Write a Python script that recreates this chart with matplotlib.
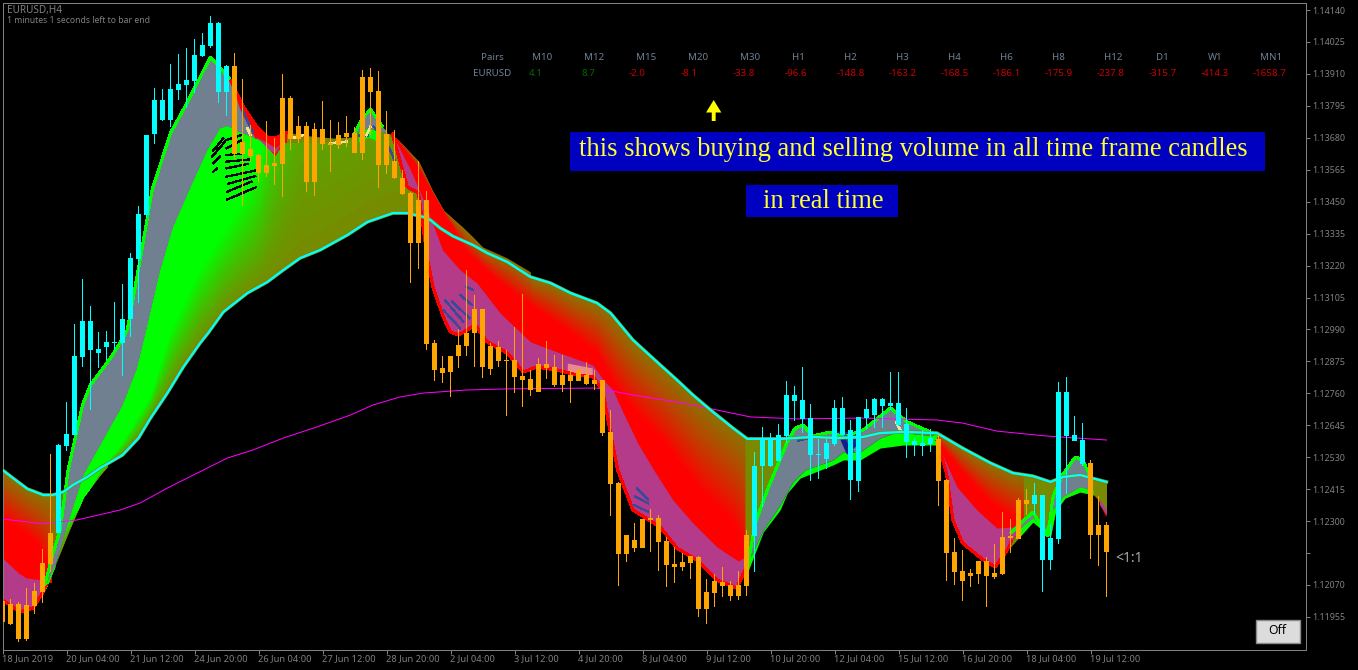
import numpy as np
import matplotlib
matplotlib.use("Agg")
import matplotlib.pyplot as plt
from matplotlib.colors import to_rgb
from matplotlib.patches import Rectangle
from matplotlib.transforms import Affine2D

# ---------- values: prices are written as points, 12012 meaning 1.12012 ----------
OPEN = [12012,12002,12002,11998,12048,12149,12257,12257,12570,12610,12891,12916,12905,12927,12941,12941,13028,13244,13402,13694,13744,13744,13852,13870,13884,13974,14010,13845,13845,
        13938,13665,13640,13618,13582,13589,13823,13823,13722,13722,13712,13712,13661,13690,13697,13697,13899,13899,13848,13694,13596,13535,13481,13456,13456,12941,12851,12894,12934,12977,13064,13064,12930,12927,12880,12880,12822,12812,12866,12866,12855,12826,12826,12844,12826,12808,12808,12621,12437,12250,12232,12308,12311,12311,12228,12146,12153,12174,12171,12045,12084,12081,12070,12070,12250,
        12246,12498,12498,12516,12606,12732,12668,12538,12538,12524,12578,12610,12448,12444,12671,12682,12714,12714,12646,12585,12574,12570,12578,
        12596,12448,12189,12120,12113,12156,12156,12113,12243,12246,12376,12376,12362,12160,12160,12236,12606,12588,12506,12509,12286,12286]
CLOSE = [11937,11930,11876,11876,11994,12045,12146,12574,12614,12894,13020,13020,12920,12945,12945,13028,13247,13406,13690,13816,13816,13856,13874,13888,13978,14014,14093,14093,13938,
         13622,13622,13614,13553,13553,13578,13586,13676,13676,13521,13521,13658,13654,13654,13683,13625,13625,13845,13582,13582,13535,13478,13301,13301,12938,12844,12833,12837,12894,12930,12977,12855,12848,12876,12876,12819,12808,12772,12765,12851,12790,12790,12804,12804,12794,12794,12617,12434,12182,12182,12203,12203,12304,12225,12142,12135,12135,12149,11984,11984,12041,12066,12030,12030,12066,
         12498,12592,12596,12610,12754,12754,12736,12671,12542,12581,12707,12707,12628,12675,12704,12740,12740,12725,12725,12650,12588,12581,12599,
         12444,12185,12117,12084,12102,12110,12102,12099,12110,12239,12236,12362,12394,12394,12239,12765,12765,12610,12592,12250,12250,12189]
HIGH = [12012,12020,12009,12059,12077,12200,12542,12578,12729,13010,13172,13074,12981,12984,13089,13154,13265,13434,13690,13859,13856,13946,13982,14003,14036,14057,14118,14097,13942,13985,13892,13726,13622,13740,13679,13910,13830,13758,13737,13733,13812,13744,13737,13758,13719,13924,13931,13920,13776,13708,13564,13485,13596,13488,12952,12894,12894,12992,13204,13114,13064,12941,12948,12916,12999,13118,12844,12887,12948,12898,12898,12844,12848,12873,12844,12808,12700,12441,12250,12293,12308,12344,12322,12243,12207,12185,12174,12174,12092,12110,12135,12084,12120,12268,12549,12639,12617,12650,12804,12786,12855,12722,12596,12596,12736,12747,12664,12675,12740,12743,12743,12837,12837,12707,12599,12628,12632,12614,12452,12239,12196,12128,12156,12171,12218,12333,12308,12383,12416,12437,12394,12290,12801,12819,12678,12653,12520,12390,12297]
LOW = [11937,11926,11865,11868,11966,12005,12117,12257,12552,12610,12855,12700,12851,12880,12916,12822,12963,13085,13391,13658,13740,13719,13816,13787,13841,13971,14003,13805,13758,13604,13434,13593,13521,13539,13510,13467,13636,13661,13485,13470,13636,13557,13640,13647,13625,13600,13690,13499,13550,13532,13474,13157,13208,12916,12804,12797,12747,12851,12894,12855,12815,12826,12855,12678,12761,12711,12750,12765,12812,12783,12765,12725,12804,12790,12772,12606,12318,12066,12153,12189,12203,12189,12120,12063,12077,12120,12092,11955,11930,11991,12027,12012,12016,12030,12117,12351,12495,12516,12581,12660,12617,12444,12452,12488,12570,12610,12376,12405,12632,12635,12635,12700,12642,12527,12534,12534,12549,12354,12084,12070,12012,12063,12074,11991,12092,12106,12185,12236,12322,12322,12045,12124,12218,12398,12588,12498,12164,12138,12027]

slow_bar = [0,1.3,3.1,5.1,6.3,7.6,8.8,10.6,12.2,15,17,18.5,20.6,22.6,24.7,25.7,27.6,30.6,33.1,35.1,37.2,39.7,43.1,45.6,48.8,50.6,52.6,53.5,54.7,56.3,58.8,60.6,63.1,66,68.5,71,74.3,76,78.8,81.8,84.3,86.3,88.5,91.3,93.1,97.2,101.3,104.3,107.6,109.7,112.6,116.8,120,123.5,126.3,128.8,131,132.6,134.7,138]
slow_pts = [12484,12455,12416,12394,12394,12405,12430,12459,12491,12538,12599,12671,12761,12855,12941,12977,13053,13121,13161,13204,13247,13276,13330,13377,13409,13409,13395,13384,13355,13326,13294,13265,13233,13179,13157,13121,13085,13049,12952,12873,12808,12754,12700,12635,12596,12596,12603,12599,12603,12617,12621,12617,12563,12509,12473,12462,12441,12459,12466,12441]
ma_bar = [0,5.1,9.3,14.7,17.2,20.6,25.6,28.1,31.3,35.1,39.3,43.5,46.3,49.7,52.6,58,63.1,74.3,78.8,85.1,89.3,93.5,96.8,99.3,107.6,116.8,120,124.3,130.6,138]
ma_pts = [12308,12290,12304,12340,12365,12419,12491,12527,12556,12599,12639,12682,12718,12747,12761,12772,12776,12779,12754,12725,12700,12675,12671,12668,12671,12664,12653,12624,12606,12592]

# first fall
d1_red_bar = [0,1.3,3.1,4.7,5.6,6.2];        d1_red_pts = [12304,12286,12250,12203,12142,12088]
d1_orc_bar = [0,2,3,5,6];                    d1_orc_pts = [12167,12113,12095,12088,12081]
d1_fast_bar = [0,2.2,3.8,5.1,5.6];           d1_fast_pts = [12016,11973,11987,12045,12081]
# first rise
up_fast_bar = [5.3,6,7.2,8.2,9.1,10,11,13.5,14.3,15.6,17.2,18.7,21,22.8,26,28.5]
up_fast_pts = [12070,12153,12268,12484,12599,12718,12790,12887,12923,12988,13240,13492,13697,13791,13971,13888]
gray_top_bar = up_fast_bar + [29.7,31,31.7]
gray_top_pts = up_fast_pts + [13780,13708,13672]
gray_low_bar = [5.3,6.6,8.1,10.1,12.2,15,16.8,17.8,19.7,21.3,23.5,25.6,27.2,28.1,29.5,31.7]
gray_low_pts = [12052,12142,12286,12466,12574,12718,12851,12970,13204,13359,13503,13636,13715,13722,13701,13672]
up_low_bar = [5,6.6,8.1,10.1,12.2,13.1]
up_low_pts = [12045,12142,12250,12387,12466,12495]
up_piv_bar = [7.2,9.7,12.2,14.7,18.5,21,24.7,28.5,31,32.2,34.1,36,37.2,43.5,49.7,53.5]
up_piv_pts = [12250,12358,12484,12574,12754,12988,13215,13384,13510,13611,14010,14536,15018,15256,15436,15436]
green_top_bar = [5.3,6.6,8.1,10.1,12.2,15,16.8,17.8,19.7,21.3,23.5,25.6,27.2,28.1,29.5,32,34.1,35.1,37.8,40.3,43.2,44.5,45.7,47.5,48.7,50,50.6,52,53.2]
green_top_pts = [12052,12142,12286,12466,12574,12718,12851,12970,13204,13359,13503,13636,13715,13722,13701,13672,13614,13661,13665,13661,13665,13701,13715,13701,13690,13564,13503,13481,13395]
# upper edge through the plateau and the second fall
edge_bar = [28.5,30.1,31.8,33.1,34.1,35.6,37.2,41.3,43.8,44.7,46,47.6,49.7,52,53.7,55.1,57.5,58.8,60,63.1,66]
edge_pts = [13888,13794,13719,13683,13679,13701,13690,13679,13683,13737,13784,13715,13665,13596,13492,13420,13359,13323,13287,13247,13197]
wedge_hi_bar = [31.7,33.2,34.1,34.7];        wedge_hi_pts = [13683,13661,13643,13658]
wedge_lo_bar = [31.7,33.2,34.1,34.7];        wedge_lo_pts = [13676,13636,13625,13654]
bump_low_bar = [44.5,45.7,47.2];             bump_low_pts = [13665,13683,13665]
# second fall
d2_red_bar = [49.1,52.1,53.5,58.1,62.2,66.3,70.6,74.3,76.3,78.8,83.1,87.2,91.3,92.8]
d2_red_pts = [13683,13564,13492,13265,13157,13071,12988,12905,12797,12700,12567,12412,12293,12207]
d2_orc_bar = [49.1,51,53,55,57.2,59.3,62.2,66,69.7,73.8,75.1,76.3,77.6,79.4,81.4,83.8,86.3,89.3,92,93.1]
d2_orc_pts = [13672,13564,13431,13276,13204,13157,13049,12945,12905,12862,12808,12772,12689,12581,12484,12376,12293,12207,12156,12178]
d2_fast_bar = [48.7,50,50.6,52,53.2,53.8,55.1,56,57,59.1,60.6,63.1,65.1,66.8,69.3,71.8,73.8,75,76,76.9,78.8,82.2,84.3,86.8,89.3,91.8,93.2]
d2_fast_pts = [13697,13564,13503,13481,13229,13143,13035,12981,12970,13006,12945,12905,12837,12855,12844,12826,12819,12772,12617,12484,12340,12279,12203,12160,12088,12059,12149]
pink_hi_bar = [70.6,73.8];                   pink_hi_pts = [12869,12851]
pink_lo_bar = [70.6,73.8];                   pink_lo_pts = [12834,12826]
# second rise
u2_fast_bar = [93.2,94.1,95.6,97,98.1,99.1,100.1,101.2,103.5,105.1,107.6,111,113.1,116,117.6]
u2_fast_pts = [12149,12293,12412,12509,12585,12635,12646,12606,12621,12603,12628,12707,12657,12621,12599]
u2_gray_bar = [93.5,95.1,97.2,98.8,100.3,103.8,105.1,107.2,109.7,111.8,115.4]
u2_gray_pts = [12171,12268,12358,12441,12484,12520,12549,12549,12599,12621,12610]
u2_low_bar = [93.1,95.1,97.2,98.1,99.7,103.8,105.1,107.2,109.7,112.6,115.6,117.6]
u2_low_pts = [12113,12261,12340,12401,12455,12502,12520,12520,12563,12574,12574,12574]
navy_hi_bar = [104.3,106.8];                 navy_hi_pts = [12625,12620]
navy_lo_bar = [104.3,105.5,106.8];           navy_lo_pts = [12620,12540,12575]
# third fall
d3_red_bar = [116.8,120,123.5,126.3,127.6];  d3_red_pts = [12592,12473,12365,12315,12293]
d3_orc_bar = [117.4,119.3,121.8,124.3,126.3,127.6]; d3_orc_pts = [12545,12423,12340,12275,12279,12293]
d3_fast_bar = [116.8,118,118.8,120,122.6,124.1,125.6,126.2,127.6]
d3_fast_pts = [12592,12473,12304,12221,12160,12135,12196,12232,12293]
# third rise and the last bars
u3_fast_bar = [126,128.8,130.7,131.3,132.5,134.1,135,136]
u3_fast_pts = [12257,12333,12243,12387,12466,12531,12520,12459]
u3_gray_bar = [127.2,128.8,130.3,131.3,132.5,134.7,136]
u3_gray_pts = [12275,12311,12268,12340,12387,12423,12412]
u3_low_bar = [126,128.8,131,131.6,132.8,134.7,136.4,137]
u3_low_pts = [12207,12297,12243,12333,12383,12405,12394,12376]
end_low_bar = u3_low_bar + [138];            end_low_pts = u3_low_pts + [12322]
tip_hi_bar = [136.8,138];                    tip_hi_pts = [12387,12329]
tip_lo_bar = [136.8,137.2,138];              tip_lo_pts = [12387,12360,12311]
tip_in_hi_bar = [137.1,138];                 tip_in_hi_pts = [12380,12340]
tip_in_lo_bar = [137.1,138];                 tip_in_lo_pts = [12360,12322]

# streaks left inside the ribbon: start bar, start value, end bar, end value
black_x0 = [26.35,26.2,26.35,26.35,28,28,28,28,28,28,28.2,28.1,28.1]
black_y0 = [13634,13612,13588,13558,13672,13642,13618,13594,13570,13540,13514,13486,13458]
black_x1 = [27.6,27.8,27.2,26.8,29.9,29.9,30.1,30.9,30.7,31.6,31.6,31.1,31.7]
black_y1 = [13678,13666,13612,13570,13690,13672,13624,13602,13586,13562,13542,13522,13502]
blue_x0 = [55.3,56.2,57.2,55.1,58,79.1,79.3,78.9,30,44.6,46.4,47.9,105.3,99.5]
blue_y0 = [13096,13090,13114,13060,13144,12388,12418,12358,13780,13690,13720,13670,12610,12590]
blue_x1 = [57.6,58.4,58.7,57.2,58.8,80.7,80.7,80.7,31.3,45.6,47,49,106.3,101]
blue_y1 = [13018,13030,13078,12994,13132,12364,12376,12334,13700,13690,13700,13600,12550,12600]
pale_x0 = [36.4,30.6,41,45.5,111.7];         pale_y0 = [13680,13715,13660,13690,12655]
pale_x1 = [37.6,31,43,46,112.4];             pale_y1 = [13690,13690,13666,13720,12620]

TICK_PRICES = [1.14140,1.14025,1.13910,1.13795,1.13680,1.13565,1.13450,1.13335,1.13220,1.13105,1.12990,1.12875,1.12760,1.12645,1.12530,1.12415,1.12300,1.12185,1.12070,1.11955]
UNLABELLED = [1.12185]
TICK_BARS = list(range(0,137,8))
DATE_LABELS = ["18 Jun 2019","20 Jun 04:00","21 Jun 12:00","24 Jun 20:00","26 Jun 04:00","27 Jun 12:00","28 Jun 20:00","2 Jul 04:00","3 Jul 12:00","4 Jul 20:00","8 Jul 04:00","9 Jul 12:00","10 Jul 20:00","12 Jul 04:00","15 Jul 12:00","16 Jul 20:00","18 Jul 04:00","19 Jul 12:00"]
PERIODS = ["M10","M12","M15","M20","M30","H1","H2","H3","H4","H6","H8","H12","D1","W1","MN1"]
STRENGTH = ["4.1","8.7","-2.0","-8.1","-33.8","-96.6","-148.8","-163.2","-168.5","-186.1","-175.9","-237.8","-315.7","-414.3","-1658.7"]

# ---------- colours ----------
GREEN, RED, GRAY, ORCHID = "#00ff00", "#ff0000", "#708090", "#b43a8a"
OLIVE_D, OLIVE_U = "#8a7400", "#788a00"
ORANGE, CYAN, MAGENTA = "#ffa500", "#00ffff", "#ff00ff"
TXT = "#808080"

W, H = 1358, 670
fig = plt.figure(figsize=(W/100, H/100), dpi=100, facecolor="black")
L, R, T, B = 2.5, 1305.5, 2.5, 649.5
ax = fig.add_axes([L/W, 1-B/H, (R-L)/W, (B-T)/H], facecolor="black")
ax.set_xlim(0, (R-L)/8)
ax.set_ylim(1.14176-0.000036*B, 1.14176-0.000036*T)
PX = Affine2D().scale(1, -1).translate(0, H)


def price(pts):
    return 1.0 + np.asarray(pts, float)/1e5


def k(bars, pts):
    return np.asarray(bars, float), price(pts)


def at(g, bars, pts, **kw):
    b, p = k(bars, pts)
    return np.interp(g, b, p, **kw)


def grid(lo, hi):
    return np.arange(lo, hi+1e-6, 0.125)


def fill(g, a, b, c, z=2.0):
    ax.fill_between(g, a, b, color=c, lw=0, antialiased=False, zorder=z)


def band(lo, hi, a, b, c):
    g = grid(lo, hi)
    fill(g, at(g, *a), at(g, *b), c)


def gradient(g, slow, pivot, far, c_slow, c_pivot, n=26):
    """Painted from the slow edge inwards, each layer reaching the far edge, so that no seams show."""
    lo, hi = np.minimum(slow, far), np.maximum(slow, far)
    c0, c1 = np.array(to_rgb(c_slow)), np.array(to_rgb(c_pivot))
    for j in range(n):
        a = np.clip(slow+(pivot-slow)*j/n, lo, hi)
        fill(g, a, far, tuple(c0+(c1-c0)*(j+.5)/n))
    fill(g, np.clip(pivot, lo, hi), far, c_pivot)


def edge(lo, hi, bars, pts, c, w=1.5):
    g = grid(lo, hi)
    ax.plot(g, at(g, bars, pts), color=c, lw=w, antialiased=False, zorder=2.5, solid_capstyle="butt")


S = (slow_bar, slow_pts)

# first fall
band(5, 9, S, (up_fast_bar, up_fast_pts), OLIVE_D)
g = grid(0, 6.2)
s = at(g, *S)
gradient(g, s, at(g, d1_red_bar, d1_red_pts), at(g, d1_fast_bar, d1_fast_pts), OLIVE_D, RED)
band(0, 6, (d1_orc_bar, d1_orc_pts), (d1_fast_bar, d1_fast_pts), ORCHID)
edge(0, 5.6, d1_fast_bar, d1_fast_pts, RED)

# plateau and its wedge
band(28.5, 36, (edge_bar, edge_pts), (green_top_bar, green_top_pts), RED)
band(31.7, 34.7, (wedge_hi_bar, wedge_hi_pts), (wedge_lo_bar, wedge_lo_pts), ORCHID)
band(35.5, 48, (edge_bar, edge_pts), (green_top_bar, green_top_pts), "#7d8a00")
band(44.2, 48, (edge_bar, edge_pts), (green_top_bar, green_top_pts), GRAY)
band(5.3, 31.7, (gray_top_bar, gray_top_pts), (gray_low_bar, gray_low_pts), GRAY)

# first rise
g = grid(5.3, 53.2)
s = at(g, *S)
low = np.where(g < 13.1, at(g, up_low_bar, up_low_pts), s)
gradient(g, low, at(g, up_piv_bar, up_piv_pts), at(g, green_top_bar, green_top_pts), OLIVE_U, GREEN)
band(44.5, 47.2, (green_top_bar, green_top_pts), (bump_low_bar, bump_low_pts), GREEN)
edge(5.3, 28.5, up_fast_bar, up_fast_pts, GREEN)
edge(44, 47.6, edge_bar, edge_pts, GREEN, 1.3)
edge(28.5, 36, edge_bar, edge_pts, RED, 1.3)

# second fall
g = grid(48.7, 93.2)
s = at(g, *S)
top = np.maximum(s, at(g, edge_bar, edge_pts, right=0))
gradient(g, top, at(g, d2_red_bar, d2_red_pts), at(g, d2_fast_bar, d2_fast_pts), OLIVE_D, RED)
band(49.1, 93.1, (d2_orc_bar, d2_orc_pts), (d2_fast_bar, d2_fast_pts), ORCHID)
band(70.6, 73.8, (pink_hi_bar, pink_hi_pts), (pink_lo_bar, pink_lo_pts), "#ea8a90")
edge(48.7, 93.2, d2_fast_bar, d2_fast_pts, RED, 1.6)

# second rise
band(92.8, 99.3, S, (u2_fast_bar, u2_fast_pts), OLIVE_U)
band(93.5, 117, (u2_fast_bar, u2_fast_pts), (u2_gray_bar, u2_gray_pts), GRAY)
band(93.1, 117.6, (u2_gray_bar, u2_gray_pts), (u2_low_bar, u2_low_pts), GREEN)
band(104.3, 106.8, (navy_hi_bar, navy_hi_pts), (navy_lo_bar, navy_lo_pts), "#10208a")
edge(93.2, 117, u2_fast_bar, u2_fast_pts, GREEN)

# third fall
band(125.5, 138, S, (end_low_bar, end_low_pts), OLIVE_U)
g = grid(116.8, 127.6)
s = at(g, *S)
gradient(g, s, at(g, d3_red_bar, d3_red_pts), at(g, d3_fast_bar, d3_fast_pts), OLIVE_D, RED)
band(117.4, 127.6, (d3_orc_bar, d3_orc_pts), (d3_fast_bar, d3_fast_pts), ORCHID)
edge(116.8, 126.2, d3_fast_bar, d3_fast_pts, RED)

# third rise and the last bars
band(126, 136, (u3_fast_bar, u3_fast_pts), (u3_gray_bar, u3_gray_pts), GRAY)
band(127.2, 136.4, (u3_gray_bar, u3_gray_pts), (u3_low_bar, u3_low_pts), GREEN)
edge(126, 136, u3_fast_bar, u3_fast_pts, GREEN)
band(136.8, 138, (tip_hi_bar, tip_hi_pts), (tip_lo_bar, tip_lo_pts), RED)
band(137.1, 138, (tip_in_hi_bar, tip_in_hi_pts), (tip_in_lo_bar, tip_in_lo_pts), ORCHID)

# streaks inside the ribbon
for xa, ya, xb, yb, c, w in [(black_x0, black_y0, black_x1, black_y1, "black", 0.9),
                             (blue_x0, blue_y0, blue_x1, blue_y1, "#3a4a9a", 0.9),
                             (pale_x0, pale_y0, pale_x1, pale_y1, "#efe39a", 1.1)]:
    for a, b, p, q in zip(xa, ya, xb, yb):
        ax.plot([a, p], [price(b), price(q)], color=c, lw=w, antialiased=False, zorder=2.6)

# moving averages
mb, mp = k(ma_bar, ma_pts)
ax.plot(mb, mp, color=MAGENTA, lw=0.72, zorder=3)
sb, sp = k(slow_bar, slow_pts)
ax.plot(sb, sp, color="#808000", lw=2.6, zorder=3.4)
ax.plot(sb, sp, color=CYAN, lw=1.7, zorder=3.5)

# candles: wick and body are each one bar drawn from the same values
o, c_, h, l = [price(v) for v in (OPEN, CLOSE, HIGH, LOW)]
x = np.arange(len(o))
colors = np.where(c_ > o, CYAN, ORANGE)
ax.bar(x, h-l, bottom=l, width=1/8, color=colors, lw=0, antialiased=False, zorder=5)
ax.bar(x, np.abs(c_-o), bottom=np.minimum(o, c_), width=5/8, color=colors, lw=0, antialiased=False, zorder=5)

# axes
for sp_ in ax.spines.values():
    sp_.set_color(TXT)
    sp_.set_linewidth(0.72)
ax.yaxis.tick_right()
ax.set_yticks(TICK_PRICES)
ax.set_yticklabels(["" if p in UNLABELLED else f"{p:.5f}" for p in TICK_PRICES])
ax.set_xticks(TICK_BARS)
ax.set_xticklabels(DATE_LABELS, ha="left")
FONT = "Noto Sans"
ax.tick_params(axis="x", colors=TXT, length=3, width=0.72, labelsize=6.7, pad=0.5)
ax.tick_params(axis="y", colors=TXT, length=3, width=0.72, labelsize=6.4, pad=1.5)
for t in ax.get_xticklabels()+ax.get_yticklabels():
    t.set_fontfamily(FONT)
    t.set_color(TXT)


def label(xp, yp, s, c=TXT, size=7, family=FONT, ha="left", z=7, **kw):
    ax.text(xp, yp, s, transform=PX, color=c, fontsize=size, family=family, ha=ha, va="center", zorder=z, clip_on=False, **kw)


label(7, 10, "EURUSD,H4", size=7.2)
label(7, 20.5, "1 minutes 1 seconds left to bar end", size=6.2)

# dashboard
label(481, 58, "Pairs", "#708090")
label(473, 73, "EURUSD", "#708090")
for j, (p, v) in enumerate(zip(PERIODS, STRENGTH)):
    label(532+52*j, 58, p, "#708090")
    neg = v.startswith("-")
    label(529+52*j-(4 if neg else 0), 73, v, "#cc0000" if neg else "#006a00")

# note boxes
for (xa, ya, xb, yb) in [(570, 132, 1265, 171), (746, 185, 898, 217)]:
    ax.add_patch(Rectangle((xa, ya), xb-xa, yb-ya, transform=PX, fc="#0000c0", ec="none", zorder=6, clip_on=False))
label(913.5, 150, "this shows buying and selling volume in all time frame candles", "#ffff33", 19.1, "Liberation Serif", ha="center")
label(823.5, 202, "in real time", "#ffff33", 19.1, "Liberation Serif", ha="center")
ax.annotate("", xy=(713.7, H-100), xytext=(713.7, H-121), xycoords="figure pixels", textcoords="figure pixels",
            arrowprops=dict(width=2.8, headwidth=11, headlength=9, facecolor="#ffff00", edgecolor="none", shrink=0), zorder=7)

# ratio and button
label(1115, 558.5, "<1:1", "#a8b0b0", 10, "Noto Sans")
ax.add_patch(Rectangle((1255.5, 619.5), 44, 23.5, transform=PX, fc="#dcdcdc", ec="#8a8a8a", lw=1.0, zorder=6, clip_on=False))
label(1277.5, 631, "Off", "black", 8.8, "Noto Sans", ha="center")

fig.savefig("out.png", dpi=100, facecolor="black")
